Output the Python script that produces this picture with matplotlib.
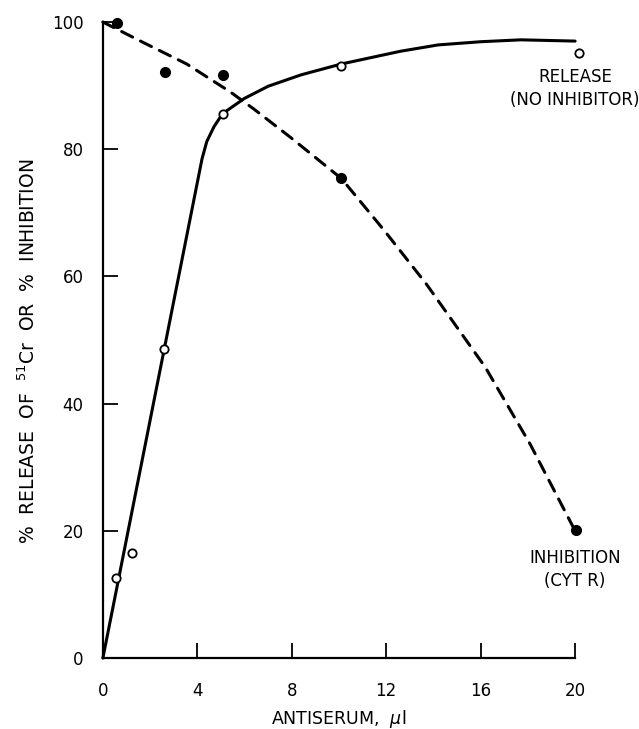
import matplotlib
matplotlib.use("Agg")
import matplotlib.pyplot as plt

# puntos medidos (liberacion sin inhibidor, circulos abiertos)
release_x = [0.55, 1.25, 2.6, 5.07, 10.1, 20.15]
release_y = [12.5, 16.5, 48.6, 85.6, 93.1, 95.2]

# curva dibujada a mano para la liberacion
release_curve_x = [0, 4.2, 4.4, 4.7, 5.07, 6.0, 7.0, 8.4, 10.1, 12.6, 14.2, 16.0, 17.7, 20.0]
release_curve_y = [0, 78.5, 81.2, 83.5, 85.6, 88.0, 89.9, 91.7, 93.4, 95.4, 96.4, 96.9, 97.2, 97.0]

# inhibicion (CYT R), circulos llenos
inhib_x = [0.6, 2.65, 5.08, 10.1, 20.05]
inhib_y = [99.8, 92.1, 91.7, 75.4, 20.2]

inhib_curve_x = [0, 1.7, 3.55, 5.4, 6.4, 7.9, 10.1, 11.9, 13.7, 16.2, 18.1, 20.0]
inhib_curve_y = [100, 96.8, 93.4, 89.0, 86.3, 82.0, 75.4, 67.3, 58.8, 45.7, 33.6, 20.0]

x_ticks = [0, 4, 8, 12, 16, 20]
y_ticks = [0, 20, 40, 60, 80, 100]

plt.rcParams["font.family"] = ["DejaVu Sans"]

fig = plt.figure(figsize=(6.39, 7.29), dpi=100)
ax = fig.add_axes([0.161, 0.0974, 0.739, 0.8724])

ax.plot(release_curve_x, release_curve_y, color="black", lw=2.2,
        solid_capstyle="round", clip_on=False)
ax.plot(inhib_curve_x, inhib_curve_y, color="black", lw=2.2,
        dashes=(4, 2.9), dash_capstyle="round", clip_on=False)

ax.plot(release_x, release_y, "o", ms=6, mfc="white", mec="black",
        mew=1.3, clip_on=False, zorder=5)
ax.plot(inhib_x, inhib_y, "o", ms=7, mfc="black", mec="black",
        clip_on=False, zorder=5)

ax.set_xlim(0, 20)
ax.set_ylim(0, 100)
ax.set_xticks(x_ticks)
ax.set_yticks(y_ticks)
ax.set_xticklabels([str(t) for t in x_ticks])
ax.set_yticklabels([str(t) for t in y_ticks])

for s in ["top", "right"]:
    ax.spines[s].set_visible(False)
for s in ["left", "bottom"]:
    ax.spines[s].set_linewidth(1.6)

ax.tick_params(axis="both", direction="in", length=11, width=1.3,
               labelsize=12)
ax.tick_params(axis="x", pad=17)
ax.tick_params(axis="y", pad=14)

# etiquetas de ejes
fig.text(0.5305, 0.0137, r"ANTISERUM,  $\mu$l", ha="center", va="center",
         fontsize=12.5)
fig.text(0.044, 0.5185, r"%  RELEASE  OF  $^{51}$Cr  OR  %  INHIBITION",
         rotation=90, ha="center", va="center", fontsize=13.5)

ax.text(20.0, 89.6, "RELEASE\n(NO INHIBITOR)", ha="center", va="center",
        fontsize=12, linespacing=1.35)
ax.text(20.0, 13.9, "INHIBITION\n(CYT R)", ha="center", va="center",
        fontsize=12, linespacing=1.35)

plt.savefig("out.png", dpi=100)
plt.close()
